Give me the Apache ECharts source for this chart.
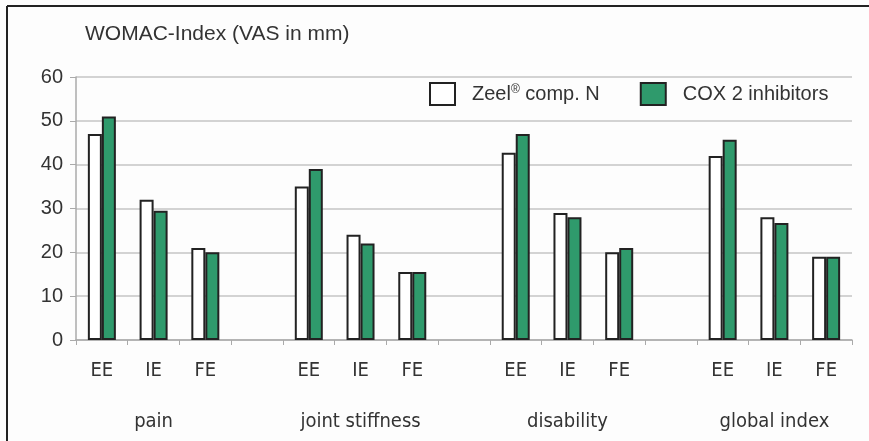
<!DOCTYPE html>
<html>
<head>
<meta charset="utf-8">
<script src="https://cdn.jsdelivr.net/npm/echarts@6/dist/echarts.min.js"></script>
<style>html,body{margin:0;padding:0;background:#fdfdfd;}#c{width:869px;height:441px;}</style>
</head>
<body>
<div id="c"></div>
<script>
const subLabels = ['EE', 'IE', 'FE'];
const groups = ['pain', 'joint stiffness', 'disability', 'global index'];
const zeel = [[47, 32, 21], [35, 24, 15.5], [42.7, 29, 20], [42, 28, 19]];
const cox = [[51, 29.5, 20], [39, 22, 15.5], [47, 28, 21], [45.7, 26.7, 19]];
const yTicks = [0, 10, 20, 30, 40, 50, 60];

const cats = [], groupCats = [], zeelData = [], coxData = [];
groups.forEach((g, gi) => {
  subLabels.forEach((s, si) => {
    cats.push(s + '#' + gi);
    groupCats.push(si === 1 ? g : '');
    zeelData.push(zeel[gi][si]);
    coxData.push(cox[gi][si]);
  });
  if (gi < groups.length - 1) {
    cats.push('gap' + gi);
    groupCats.push('');
    zeelData.push(null);
    coxData.push(null);
  }
});

const chart = echarts.init(document.getElementById('c'));
const narrow = '"Liberation Sans Narrow", "DejaVu Sans Condensed", "Liberation Sans", sans-serif';
const base = '"Liberation Sans", Arial, sans-serif';
chart.setOption({
  backgroundColor: '#fdfdfd',
  animation: false,
  title: {
    text: 'WOMAC-Index (VAS in mm)',
    left: 80, top: 19,
    textStyle: { fontFamily: base, fontSize: 21, fontWeight: 'normal', color: '#333' }
  },
  legend: {
    left: 429, top: 82, padding: 0,
    itemWidth: 25, itemHeight: 22, itemGap: 40,
    icon: 'rect',
    textStyle: { fontFamily: base, fontSize: 20, color: '#333', padding: [0, 0, 0, 12],
      rich: { sup: { fontSize: 12, verticalAlign: 'top', padding: [0, 0, 9, 0], fontFamily: base, color: '#333' } } },
    formatter: function (n) { return n === 'Zeel® comp. N' ? 'Zeel{sup|®} comp. N' : n; },
    data: ['Zeel® comp. N', 'COX 2 inhibitors']
  },
  graphic: [
    { type: 'line', shape: { x1: 7, y1: 6, x2: 7, y2: 441 }, style: { stroke: '#222', lineWidth: 2 } },
    { type: 'line', shape: { x1: 7, y1: 6, x2: 869, y2: 6 }, style: { stroke: '#222', lineWidth: 2 } }
  ],
  grid: { left: 76, right: 17, top: 77, bottom: 101, containLabel: false },
  xAxis: [
    {
      type: 'category', data: cats, boundaryGap: true,
      axisLine: { show: true, lineStyle: { color: '#aaa', width: 1.5 } },
      axisTick: { show: true, interval: 0, length: 5, lineStyle: { color: '#aaa' } },
      axisLabel: { interval: 0, margin: 21, fontFamily: narrow, fontSize: 20, color: '#333',
        formatter: v => v.startsWith('gap') ? '' : v.split('#')[0] }
    },
    {
      type: 'category', data: groupCats, position: 'bottom', offset: 0, boundaryGap: true,
      axisLine: { show: false }, axisTick: { show: false },
      axisLabel: { interval: 0, margin: 72, fontFamily: narrow, fontSize: 20, color: '#333' }
    }
  ],
  yAxis: {
    type: 'value', min: 0, max: 60, interval: 10,
    axisLine: { show: true, lineStyle: { color: '#aaa', width: 1.5 } },
    axisTick: { show: true, length: 6, lineStyle: { color: '#aaa' } },
    splitLine: { show: true, lineStyle: { color: '#c4c4c4', width: 1.5 } },
    axisLabel: { margin: 13, fontFamily: base, fontSize: 20, color: '#333',
      formatter: v => yTicks.includes(v) ? String(v) : '' }
  },
  series: [
    {
      name: 'Zeel® comp. N', type: 'bar', data: zeelData, barWidth: 14, barGap: '0%',
      itemStyle: { color: '#ffffff', borderColor: '#222', borderWidth: 2 }
    },
    {
      name: 'COX 2 inhibitors', type: 'bar', data: coxData, barWidth: 14, barGap: '0%',
      itemStyle: { color: '#2f9a6c', borderColor: '#222', borderWidth: 2 }
    }
  ]
});
</script>
</body>
</html>
